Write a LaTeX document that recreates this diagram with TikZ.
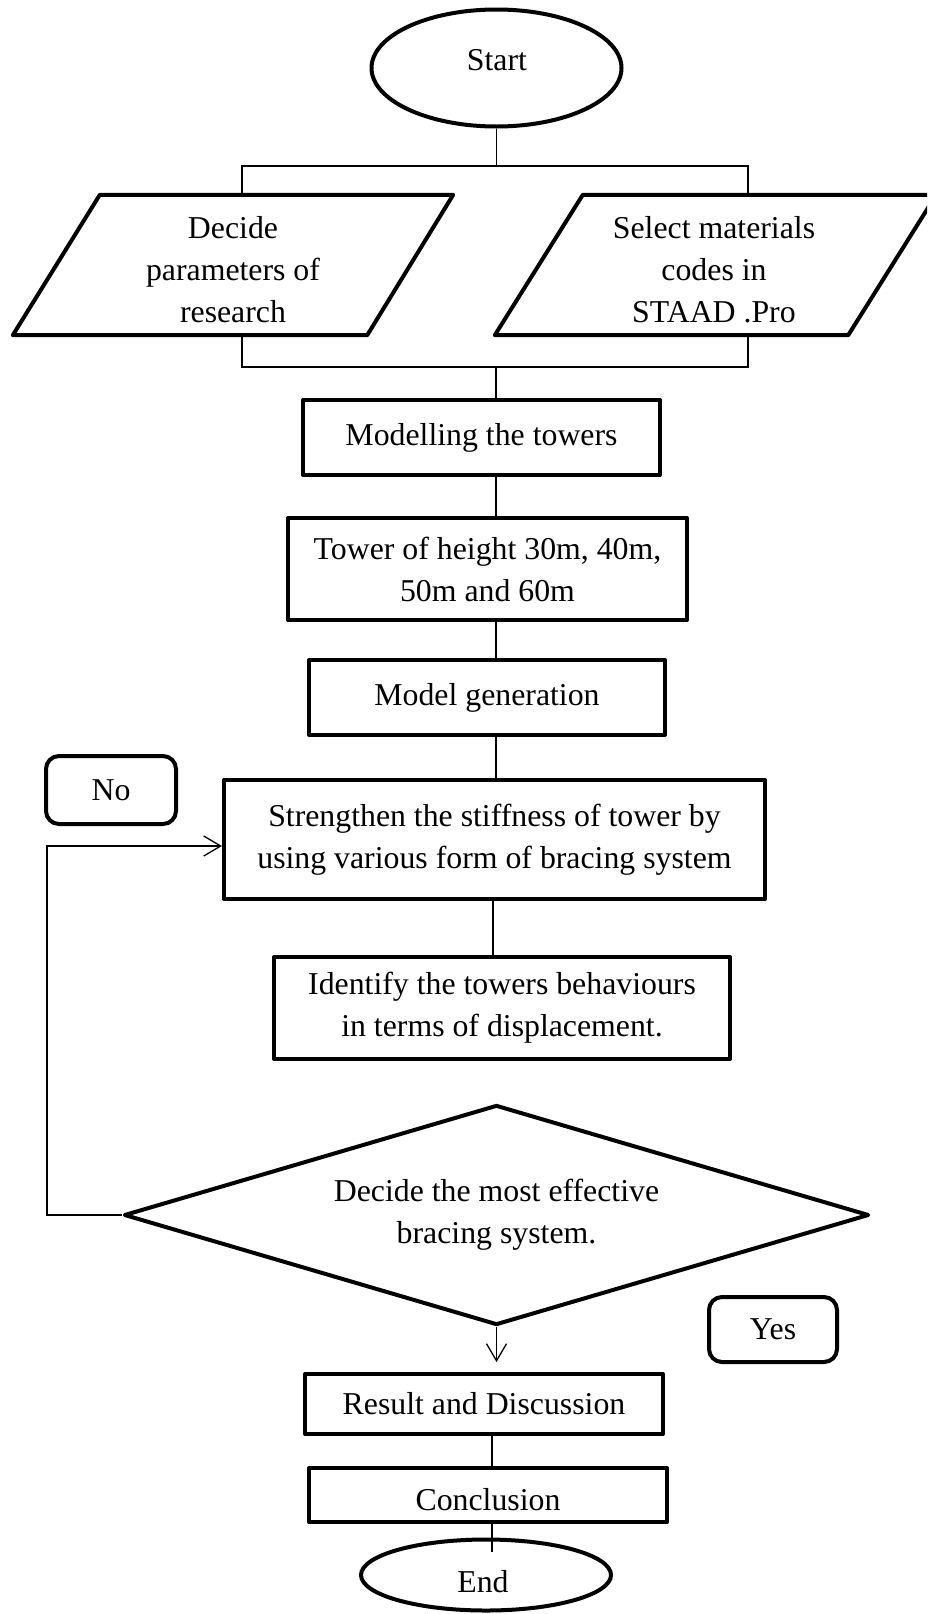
\documentclass[tikz,border=0pt]{standalone}
\usepackage{fontspec}
\setmainfont{Liberation Serif}
\usetikzlibrary{shapes.geometric,arrows.meta}
\begin{document}
\begin{tikzpicture}[x=1pt,y=-1pt,
  every node/.style={font=\fontsize{31.8}{42}\selectfont, align=center, inner sep=2pt},
  box/.style={draw, line width=4pt, line join=round, rectangle},
  term/.style={draw, line width=4pt, ellipse},
  lbl/.style={draw, line width=4pt, rounded corners=13pt, rectangle},
  dec/.style={draw, line width=4pt, line join=round, diamond, aspect=3.39},
  plain/.style={draw=none, rectangle},
  outline/.style={line width=4pt, line join=round},
  conn/.style={line width=1.3pt},
  arr/.style={-{Straight Barb[length=17pt,width=20pt]}}
]
\clip (0,0) rectangle (927,1614);
\fill[white] (0,0) rectangle (927,1614);

% terminals
\node[term, minimum width=250, minimum height=117] (start) at (496.5,68) {};
\node (startT) at (497,60) {Start};

% parallelograms
\node[plain, minimum width=440, minimum height=140] (pL) at (233,265) {};
\node (pLT) at (233,270) {Decide\\parameters of\\research};
\draw[outline] ([xshift=87]pL.north west) -- (pL.north east) -- ([xshift=-86]pL.south east) -- (pL.south west) -- cycle;
\node[plain, minimum width=441, minimum height=140] (pR) at (715.5,265) {};
\node (pRT) at (714,270) {Select materials\\codes in\\STAAD .Pro};
\draw[outline] ([xshift=88]pR.north west) -- (pR.north east) -- ([xshift=-88]pR.south east) -- (pR.south west) -- cycle;

% process boxes
\node[box, minimum width=357, minimum height=75] (mod) at (481.5,437.5) {Modelling the towers};
\node[box, minimum width=399, minimum height=102] (tow) at (487.5,569) {Tower of height 30m, 40m,\\50m and 60m};
\node[box, minimum width=356, minimum height=75] (gen) at (487,697.5) {Model generation};
\node[box, minimum width=541, minimum height=119] (str) at (494.5,839.5) {Strengthen the stiffness of tower by\\using various form of bracing system};
\node[box, minimum width=456, minimum height=102] (idf) at (502,1008) {Identify the towers behaviours\\in terms of displacement.};
\node[dec, minimum width=745, minimum height=220] (dia) at (496.5,1215) {Decide the most effective\\bracing system.};
\node[box, minimum width=358, minimum height=60] (res) at (484,1404) {Result and Discussion};
\node[box, minimum width=358, minimum height=54, text height=30pt, text depth=0pt] (con) at (488,1495) {Conclusion};
\node[term, minimum width=250, minimum height=71] (end) at (486,1575) {};
\node (endT) at (483,1582) {End};

% labels
\node[lbl, minimum width=130, minimum height=68] (no) at (111,790) {No};
\node[lbl, minimum width=128, minimum height=65] (yes) at (773,1329.5) {Yes};

% coordinates
\coordinate (tl) at (242,166);
\coordinate (tr) at (748,166);
\coordinate (bl) at (242,367);
\coordinate (br) at (748,367);
\coordinate (jb) at (496,367);
\coordinate (c2) at (493,0);
\coordinate (ya) at (496.5,1362);
\coordinate (c3) at (492,1552);
\coordinate (lp) at (47,846);

% connectors
\draw[conn] (start.south) -- (start.south |- tl);
\draw[conn] (pL.north -| tl) -- (tl) -- (tr) -- (pR.north -| tr);
\draw[conn] (pL.south -| bl) -- (bl) -- (br) -- (pR.south -| br);
\draw[conn] (jb) -- (mod.north -| jb);
\draw[conn] (mod.south -| jb) -- (tow.north -| jb);
\draw[conn] (tow.south -| jb) -- (gen.north -| jb);
\draw[conn] (gen.south -| jb) -- (str.north -| jb);
\draw[conn] (str.south -| c2) -- (idf.north -| c2);
\draw[conn,arr] (dia.south) -- (ya);
\draw[conn] (res.south -| c3) -- (con.north -| c3);
\draw[conn] (con.south -| c3) -- (c3);
\draw[conn,arr] (dia.west) -| (lp) -- (lp -| str.west);
\end{tikzpicture}
\end{document}
